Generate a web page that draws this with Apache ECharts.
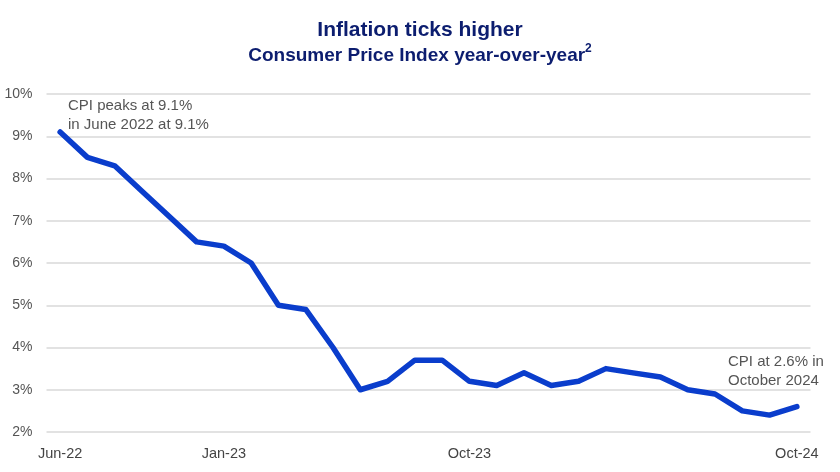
<!DOCTYPE html>
<html>
<head>
<meta charset="utf-8">
<script src="https://cdn.jsdelivr.net/npm/echarts@6/dist/echarts.min.js"></script>
<style>html,body{margin:0;padding:0;background:#fff}#c{width:840px;height:472px}</style>
</head>
<body>
<div id="c"></div>
<script>
const categories = ['Jun-22','Jul-22','Aug-22','Oct-22','Nov-22','Dec-22','Jan-23','Feb-23','Mar-23','Apr-23','May-23','Jun-23','Jul-23','Aug-23','Sep-23','Oct-23','Nov-23','Dec-23','Jan-24','Feb-24','Mar-24','Apr-24','May-24','Jun-24','Jul-24','Aug-24','Sep-24','Oct-24'];
const cpiValues = [9.1,8.5,8.3,7.7,7.1,6.5,6.4,6.0,5.0,4.9,4.0,3.0,3.2,3.7,3.7,3.2,3.1,3.4,3.1,3.2,3.5,3.4,3.3,3.0,2.9,2.5,2.4,2.6];
const xTickLabels = ['Jun-22','Jan-23','Oct-23','Oct-24'];
const yTicks = [2,3,4,5,6,7,8,9,10];

const navy = '#0c1d6f';
const chart = echarts.init(document.getElementById('c'), null, {renderer:'canvas'});
chart.setOption({
  animation: false,
  backgroundColor: '#fff',
  title: [
    {text: 'Inflation ticks higher', left: 'center', top: 13,
     textStyle: {fontFamily: 'Liberation Sans', fontWeight: 'bold', fontSize: 21, lineHeight: 24, color: navy}},
    {text: '{m|Consumer Price Index year-over-year}{s|2}', left: 'center', top: 38,
     textStyle: {
       rich: {
         m: {fontFamily: 'Liberation Sans', fontWeight: 'bold', fontSize: 19, lineHeight: 22, color: navy, verticalAlign: 'bottom'},
         s: {fontFamily: 'Liberation Sans', fontWeight: 'bold', fontSize: 12, lineHeight: 16, color: navy, verticalAlign: 'top'}
       }
     }}
  ],
  grid: {left: 46.5, right: 29.5, top: 94, bottom: 40, containLabel: false},
  xAxis: {
    type: 'category', data: categories, boundaryGap: true,
    axisLine: {show: false}, axisTick: {show: false},
    axisLabel: {
      interval: (i, v) => xTickLabels.includes(v),
      color: '#444', fontFamily: 'Liberation Sans', fontSize: 14.5, margin: 14
    }
  },
  yAxis: {
    type: 'value', min: yTicks[0], max: yTicks[yTicks.length-1], interval: 1,
    axisLine: {show: false}, axisTick: {show: false},
    axisLabel: {formatter: v => v + '%', color: '#555', fontFamily: 'Liberation Sans', fontSize: 14, margin: 14},
    splitLine: {lineStyle: {color: '#d9d9d9', width: 1.5}}
  },
  series: [{
    type: 'line', data: cpiValues, symbol: 'none',
    lineStyle: {color: '#0a3dcc', width: 5.5, cap: 'round', join: 'round'}
  }],
  graphic: [
    {type: 'text', left: 68, top: 96, style: {text: 'CPI peaks at 9.1%\nin June 2022 at 9.1%', fill: '#555', font: '15px "Liberation Sans"', lineHeight: 19}},
    {type: 'text', left: 728, top: 352, style: {text: 'CPI at 2.6% in\nOctober 2024', fill: '#555', font: '15px "Liberation Sans"', lineHeight: 19}}
  ]
});
</script>
</body>
</html>
